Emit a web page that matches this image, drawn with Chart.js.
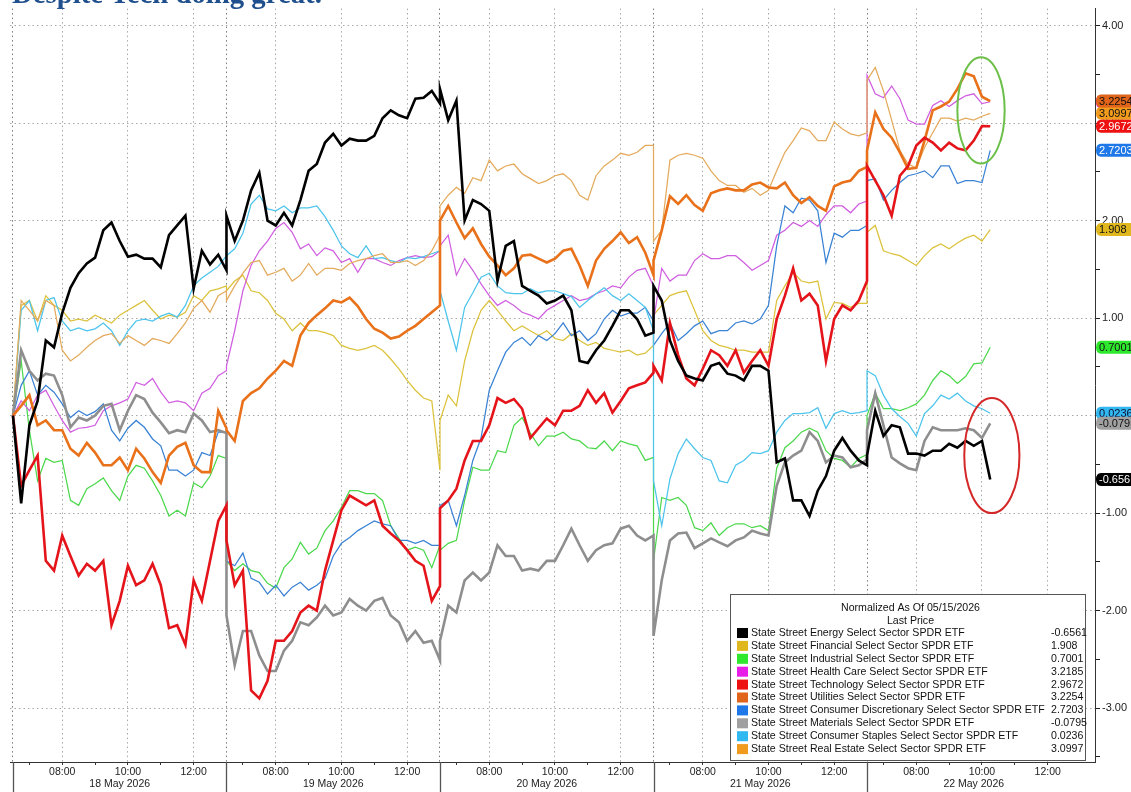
<!DOCTYPE html>
<html>
<head>
<meta charset="utf-8">
<title>Sector ETFs - normalized</title>
<script src="https://cdn.jsdelivr.net/npm/chart.js@4.4.1/dist/chart.umd.min.js"></script>
<style>
  html, body { margin: 0; padding: 0; background: #fff; }
  #wrap { width: 1131px; height: 792px; }
</style>
</head>
<body>
<div id="wrap"><canvas id="chart" width="1131" height="792"></canvas></div>
<script>
// 15 minute bars, 06:30 - 13:00 each session
const dayLabels = ['18 May 2026', '19 May 2026', '20 May 2026', '21 May 2026', '22 May 2026'];
const barsPerDay = [27, 27, 27, 27, 16];
const tickHours = [7, 8, 9, 10, 11, 12];
const yTickValues = [-3.5, -3, -2.5, -2, -1.5, -1, -0.5, 0, 0.5, 1, 1.5, 2, 2.5, 3, 3.5, 4];

const sectorNames = [
  'State Street Energy Select Sector SPDR ETF',
  'State Street Financial Select Sector SPDR ETF',
  'State Street Industrial Select Sector SPDR ETF',
  'State Street Health Care Select Sector SPDR ETF',
  'State Street Technology Select Sector SPDR ETF',
  'State Street Utilities Select Sector SPDR ETF',
  'State Street Consumer Discretionary Select Sector SPDR ETF',
  'State Street Materials Select Sector SPDR ETF',
  'State Street Consumer Staples Select Sector SPDR ETF',
  'State Street Real Estate Select Sector SPDR ETF'
];

const energy = [
  0, -0.90, -0.10, 0.15, 0.77, 0.70, 1.05, 1.31, 1.46, 1.56, 1.62, 1.90, 1.98, 1.79, 1.63, 1.65, 1.61, 1.61, 1.52, 1.85, 1.95, 2.05, 1.30, 1.69, 1.55, 1.65, 1.49,
  2.05, 1.79, 2.00, 2.31, 2.49, 2.00, 1.95, 2.08, 1.95, 2.21, 2.51, 2.58, 2.80, 2.89, 2.77, 2.84, 2.82, 2.82, 2.87, 3.05, 3.13, 3.08, 3.05, 3.25, 3.26, 3.33, 3.20,
  3.35, 3.03, 3.23, 2.00, 2.21, 2.17, 2.10, 1.38, 1.74, 1.79, 1.33, 1.28, 1.23, 1.15, 1.18, 1.23, 1.08, 0.56, 0.54, 0.67, 0.77, 0.92, 1.08, 1.08, 0.99, 0.82, 0.85,
  1.33, 1.18, 0.77, 0.56, 0.41, 0.38, 0.36, 0.51, 0.54, 0.43, 0.41, 0.36, 0.51, 0.51, 0.46, -0.48, -0.44, -0.87, -0.87, -1.03, -0.77, -0.62, -0.36, -0.23, -0.36, -0.46, -0.51,
  -0.41, 0.05, -0.21, -0.10, -0.12, -0.39, -0.39, -0.41, -0.36, -0.36, -0.29, -0.33, -0.26, -0.31, -0.26, -0.6561
];
const financial = [
  0, 1.13, 1.18, 0.97, 1.23, 1.13, 1.08, 0.97, 0.99, 0.97, 1.03, 0.99, 0.95, 1.03, 1.08, 1.13, 1.18, 1.08, 0.99, 1.03, 1.01, 1.06, 1.23, 1.18, 1.28, 1.30, 1.33,
  1.28, 1.38, 1.44, 1.28, 1.26, 1.18, 1.05, 0.99, 0.87, 0.95, 0.87, 0.87, 0.85, 0.82, 0.72, 0.69, 0.67, 0.69, 0.72, 0.67, 0.58, 0.48, 0.36, 0.26, 0.18, 0.15, -0.56,
  -0.05, 0.21, 0.10, 0.56, 0.87, 1.08, 1.18, 1.08, 0.97, 0.87, 0.92, 0.87, 0.82, 0.87, 0.79, 0.77, 0.84, 0.77, 0.72, 0.75, 0.69, 0.67, 0.65, 0.67, 0.62, 0.64, 0.72,
  1.03, 1.13, 1.23, 1.26, 1.28, 1.08, 0.87, 0.77, 0.72, 0.70, 0.67, 0.67, 0.65, 0.65, 0.65, 1.18, 1.33, 1.47, 1.38, 1.36, 1.38, 0.99, 1.16, 1.15, 1.11, 1.15, 1.15,
  1.88, 1.95, 1.69, 1.66, 1.64, 1.59, 1.54, 1.64, 1.72, 1.76, 1.71, 1.77, 1.82, 1.85, 1.79, 1.908
];
const industrial = [
  0, 0.56, -0.15, -0.67, -0.44, -0.48, -0.46, -0.87, -0.92, -0.75, -0.70, -0.64, -0.77, -0.87, -0.62, -0.51, -0.54, -0.67, -0.82, -1.03, -0.97, -1.03, -0.69, -0.74, -0.62, -0.41, -0.44,
  -1.49, -1.59, -1.52, -1.59, -1.61, -1.72, -1.77, -1.56, -1.47, -1.30, -1.42, -1.36, -1.18, -1.08, -0.94, -0.77, -0.77, -0.80, -0.80, -0.87, -1.13, -1.26, -1.38, -1.35, -1.38, -1.56, -1.33,
  -1.38, -1.31, -1.28, -0.87, -0.53, -0.56, -0.56, -0.36, -0.38, -0.10, -0.02, -0.18, -0.31, -0.21, -0.21, -0.17, -0.24, -0.26, -0.33, -0.34, -0.26, -0.36, -0.26, -0.29, -0.31, -0.46, -0.43,
  -1.49, -0.84, -0.87, -0.84, -0.92, -1.15, -1.18, -1.10, -1.23, -1.15, -1.11, -1.11, -1.15, -1.13, -1.18, -0.54, -0.33, -0.26, -0.17, -0.13, -0.17, -0.36, -0.44, -0.46, -0.53, -0.44, -0.40,
  0, 0.23, 0.07, 0.07, 0.05, 0.08, 0.12, 0.21, 0.36, 0.46, 0.41, 0.33, 0.40, 0.53, 0.54, 0.7001
];
const healthCare = [
  0, 0.15, 0.05, 0.21, 0.26, 0.10, -0.05, -0.17, -0.13, -0.12, -0.10, 0.05, 0.10, 0.13, 0.17, 0.34, 0.31, 0.38, 0.24, 0.13, 0.15, 0.13, 0.05, 0.23, 0.28, 0.41, 0.46,
  0.51, 0.87, 1.28, 1.54, 1.69, 1.79, 1.92, 1.98, 1.88, 1.71, 1.76, 1.64, 1.72, 1.69, 1.57, 1.61, 1.47, 1.61, 1.61, 1.57, 1.54, 1.59, 1.62, 1.64, 1.62, 1.63, 1.69,
  1.74, 1.85, 1.44, 1.61, 1.49, 1.35, 1.23, 1.13, 1.18, 1.13, 1.06, 1.03, 0.99, 1.08, 1.13, 1.18, 1.23, 1.18, 1.20, 1.25, 1.28, 1.33, 1.31, 1.42, 1.49, 1.51, 1.33,
  0.97, 1.51, 1.38, 1.44, 1.44, 1.59, 1.66, 1.61, 1.61, 1.64, 1.64, 1.57, 1.49, 1.54, 1.59, 1.85, 1.90, 1.98, 1.94, 2.00, 1.94, 2.06, 2.15, 2.15, 2.08, 2.17, 2.20,
  3.49, 3.30, 3.26, 3.38, 3.25, 3.03, 2.99, 2.99, 3.18, 3.23, 3.17, 3.23, 3.28, 3.30, 3.20, 3.2185
];
const technology = [
  0, -0.72, -0.56, -0.41, -1.49, -1.59, -1.23, -1.44, -1.64, -1.52, -1.59, -1.49, -2.15, -1.90, -1.54, -1.74, -1.69, -1.52, -1.74, -2.18, -2.15, -2.35, -1.69, -1.90, -1.49, -1.08, -0.92,
  -1.28, -1.74, -1.59, -2.82, -2.90, -2.72, -2.31, -2.31, -2.21, -2.02, -1.95, -2.00, -1.59, -1.28, -0.97, -0.82, -0.87, -0.92, -0.87, -1.13, -1.21, -1.28, -1.38, -1.49, -1.54, -1.90, -1.75,
  -0.95, -0.87, -0.75, -0.46, -0.26, -0.26, -0.10, 0.18, 0.13, 0.17, 0.07, -0.23, -0.13, -0.03, -0.10, 0.05, 0.05, 0.10, 0.26, 0.13, 0.23, 0.03, 0.15, 0.28, 0.31, 0.34, 0.44,
  0.51, 0.36, 0.95, 0.62, 0.38, 0.31, 0.48, 0.67, 0.62, 0.51, 0.67, 0.44, 0.56, 0.67, 0.51, 0.99, 1.23, 1.51, 1.18, 1.25, 1.13, 0.56, 0.99, 1.13, 1.08, 1.18, 1.38,
  2.56, 2.41, 2.26, 2.05, 2.46, 2.56, 2.77, 2.85, 2.80, 2.72, 2.80, 2.74, 2.72, 2.82, 2.97, 2.9672
];
const utilities = [
  0, 0.10, 0.21, -0.10, -0.05, -0.15, -0.15, -0.34, -0.41, -0.28, -0.38, -0.51, -0.51, -0.43, -0.56, -0.34, -0.44, -0.58, -0.69, -0.41, -0.32, -0.28, -0.51, -0.58, -0.58, 0.05, -0.13,
  -0.15, -0.26, 0.15, 0.23, 0.28, 0.38, 0.46, 0.56, 0.51, 0.82, 0.95, 1.03, 1.10, 1.18, 1.16, 1.21, 1.12, 0.99, 0.89, 0.85, 0.79, 0.81, 0.87, 0.92, 0.99, 1.06, 1.13,
  2.00, 2.15, 1.98, 1.82, 1.92, 1.76, 1.63, 1.54, 1.44, 1.51, 1.64, 1.65, 1.61, 1.57, 1.61, 1.69, 1.71, 1.54, 1.33, 1.59, 1.71, 1.79, 1.88, 1.77, 1.83, 1.67, 1.44,
  1.59, 1.90, 2.25, 2.17, 2.26, 2.16, 2.10, 2.28, 2.31, 2.33, 2.31, 2.31, 2.37, 2.39, 2.34, 2.33, 2.39, 2.26, 2.18, 2.24, 2.15, 2.10, 2.35, 2.39, 2.41, 2.51, 2.55,
  2.72, 3.11, 2.94, 2.85, 2.70, 2.53, 2.54, 2.82, 3.13, 3.17, 3.22, 3.35, 3.51, 3.48, 3.27, 3.2254
];
const consDiscretionary = [
  0, 0.31, 0.46, 0.21, 0.31, 0.24, 0.12, -0.02, 0.05, 0, 0.04, 0.12, -0.15, -0.26, -0.13, -0.05, -0.12, -0.24, -0.31, -0.56, -0.56, -0.62, -0.56, -0.38, -0.41, -0.17, -0.17,
  -1.49, -1.54, -1.41, -1.67, -1.71, -1.83, -1.74, -1.85, -1.76, -1.71, -1.79, -1.74, -1.67, -1.44, -1.31, -1.25, -1.18, -1.13, -1.08, -1.11, -1.13, -1.28, -1.28, -1.31, -1.28, -1.33, -1.33,
  -0.92, -0.87, -1.13, -0.82, -0.46, -0.23, 0.26, 0.46, 0.65, 0.75, 0.80, 0.72, 0.82, 0.77, 0.84, 0.95, 0.82, 0.87, 0.77, 0.84, 0.99, 1.08, 1.02, 1.05, 1.05, 1.11, 0.97,
  0.72, 0.84, 0.95, 0.77, 0.84, 0.92, 0.97, 0.84, 0.87, 0.87, 0.95, 0.97, 0.94, 0.99, 1.13, 1.74, 2.15, 2.08, 2.23, 2.21, 2.10, 1.57, 1.87, 1.83, 1.90, 1.90, 1.95,
  2.41, 2.43, 2.21, 2.31, 2.39, 2.46, 2.48, 2.51, 2.44, 2.56, 2.56, 2.38, 2.41, 2.41, 2.39, 2.7203
];
const materials = [
  0, 0.67, 0.46, 0.36, 0.43, 0.41, 0.21, -0.12, -0.02, -0.05, 0, 0.10, 0.12, -0.15, 0.05, 0.21, 0.17, 0.03, -0.07, -0.18, -0.15, -0.17, 0.02, -0.05, -0.17, -0.15, -0.18,
  -2.05, -2.56, -2.21, -2.21, -2.46, -2.62, -2.62, -2.41, -2.31, -2.12, -2.15, -2.07, -1.95, -2.05, -2.02, -1.88, -1.95, -2.00, -1.90, -1.87, -2.05, -2.12, -2.31, -2.21, -2.33, -2.31, -2.51,
  -2.31, -1.95, -2.02, -1.69, -1.61, -1.69, -1.61, -1.33, -1.44, -1.44, -1.59, -1.57, -1.59, -1.49, -1.49, -1.33, -1.16, -1.33, -1.49, -1.38, -1.33, -1.31, -1.16, -1.13, -1.23, -1.28, -1.23,
  -2.26, -1.69, -1.28, -1.21, -1.20, -1.36, -1.31, -1.26, -1.30, -1.34, -1.28, -1.25, -1.18, -1.21, -1.23, -0.72, -0.48, -0.41, -0.36, -0.17, -0.26, -0.48, -0.41, -0.43, -0.53, -0.51, -0.45,
  -0.15, 0.23, -0.10, -0.43, -0.49, -0.54, -0.56, -0.26, -0.12, -0.15, -0.15, -0.15, -0.13, -0.15, -0.23, -0.0795
];
const consStaples = [
  0, 1.08, 1.18, 0.87, 1.18, 1.21, 0.97, 0.87, 0.90, 0.87, 0.89, 0.95, 0.87, 0.72, 0.87, 0.97, 0.99, 0.97, 1.02, 1.05, 1.01, 1.13, 1.33, 1.41, 1.47, 1.53, 1.64,
  1.64, 1.71, 1.87, 2.17, 2.26, 2.12, 2.10, 2.15, 2.08, 2.13, 2.13, 2.15, 2.04, 1.90, 1.74, 1.66, 1.62, 1.74, 1.61, 1.62, 1.59, 1.57, 1.62, 1.61, 1.63, 1.66, 1.69,
  1.28, 0.97, 0.67, 1.11, 1.26, 1.42, 1.46, 1.33, 1.26, 1.25, 1.25, 1.30, 1.26, 1.28, 1.28, 1.25, 1.22, 1.11, 1.18, 1.25, 1.31, 1.23, 1.18, 1.25, 1.18, 1.11, 0.87,
  -0.67, -1.13, -0.65, -0.39, -0.24, -0.34, -0.43, -0.46, -0.67, -0.69, -0.51, -0.46, -0.38, -0.39, -0.36, -0.17, -0.05, 0.02, 0.02, 0.03, 0.08, -0.13, 0.02, 0.05, 0.02, 0.03, 0.05,
  0.46, 0.41, 0.21, 0.07, -0.01, -0.08, -0.21, 0.02, 0.10, 0.21, 0.17, 0.23, 0.15, 0.10, 0.07, 0.0236
];
const realEstate = [
  0, 1.18, 1.08, 0.97, 1.18, 1.13, 0.67, 0.56, 0.62, 0.70, 0.77, 0.82, 0.84, 0.74, 0.82, 0.77, 0.72, 0.79, 0.77, 0.74, 0.84, 0.95, 1.10, 1.18, 1.06, 1.23, 1.28,
  1.18, 1.33, 1.46, 1.57, 1.59, 1.44, 1.47, 1.51, 1.38, 1.44, 1.56, 1.44, 1.51, 1.51, 1.49, 1.56, 1.59, 1.61, 1.64, 1.66, 1.57, 1.57, 1.59, 1.54, 1.59, 1.69, 1.85,
  2.15, 2.26, 2.34, 2.28, 2.44, 2.41, 2.62, 2.51, 2.56, 2.58, 2.48, 2.43, 2.38, 2.41, 2.46, 2.48, 2.41, 2.26, 2.21, 2.46, 2.56, 2.62, 2.69, 2.67, 2.70, 2.77, 2.77,
  1.79, 1.90, 2.62, 2.67, 2.69, 2.67, 2.64, 2.51, 2.41, 2.36, 2.36, 2.29, 2.33, 2.26, 2.31, 2.51, 2.70, 2.82, 2.95, 2.92, 2.82, 2.82, 3.01, 2.94, 2.89, 2.87, 2.90,
  3.44, 3.57, 3.33, 3.03, 2.72, 2.58, 2.54, 2.75, 2.90, 3.05, 3.05, 3.02, 3.05, 3.03, 3.07, 3.0997
];

const allSeries = [energy, financial, industrial, healthCare, technology, utilities, consDiscretionary, materials, consStaples, realEstate];

// styling
const lineColors = ['#000000', '#dcc23c', '#4cd84c', '#d05ee0', '#e4141a', '#e8711a', '#3a82d4', '#8e8e8e', '#4cc4ec', '#e4aa5c'];
const swatchColors = ['#000000', '#e0b81e', '#2ee82e', '#e81ee8', '#ee1111', '#e0641a', '#1e78e8', '#a0a0a0', '#32b8f0', '#f09a1e'];
const lineWidths = [2.6, 1.25, 1.25, 1.25, 2.6, 2.6, 1.25, 2.6, 1.25, 1.25];
const drawOrder = [0, 9, 8, 7, 1, 2, 6, 3, 5, 4];
const tagText = ['#fff', '#111', '#111', '#111', '#fff', '#111', '#fff', '#111', '#113', '#111'];
const tagStack = [3, 9, 5, 4, 6, 1, 2, 8, 7, 0];

// annotation ellipses in data units (hours since first open, value)
const callouts = [
  { t: 29.47, v: 3.13, dt: 0.72, dv: 0.545, color: '#6cbf48' },
  { t: 29.80, v: -0.41, dt: 0.84, dv: 0.59, color: '#d42828' }
];

const times = [];
barsPerDay.forEach((n, d) => { for (let k = 0; k < n; k++) times.push(d * 6.5 + k * 0.25); });

const xTicks = [];
dayLabels.forEach((day, d) => {
  const open = d * 6.5;
  xTicks.push({ value: open, kind: 'day', label: '' });
  tickHours.forEach(h => {
    const even = h % 2 === 0;
    xTicks.push({ value: open + h - 6.5, kind: even ? 'major' : 'minor', label: even ? String(h).padStart(2, '0') + ':00' : '' });
  });
  xTicks.push({ value: open + 3.25, kind: 'mid', label: ['', day] });
});
xTicks.sort((a, b) => a.value - b.value);

const FONT = '"Liberation Sans", "DejaVu Sans", sans-serif';

const overlay = {
  id: 'overlay',
  afterDatasetsDraw(chart) {
    const { ctx, chartArea: a, scales: { x, y } } = chart;
    ctx.save();
    callouts.forEach(c => {
      const cx = x.getPixelForValue(c.t), cy = y.getPixelForValue(c.v);
      const rx = x.getPixelForValue(c.t + c.dt) - cx;
      const ry = cy - y.getPixelForValue(c.v + c.dv);
      ctx.beginPath();
      ctx.ellipse(cx, cy, rx, ry, 0, 0, Math.PI * 2);
      ctx.strokeStyle = c.color;
      ctx.lineWidth = 2;
      ctx.stroke();
    });

    // legend box
    const w = 355, h = 166;
    const bx = a.right - 10 - w, by = a.bottom - 2 - h;
    ctx.fillStyle = '#fff';
    ctx.fillRect(bx, by, w, h);
    ctx.strokeStyle = '#555';
    ctx.lineWidth = 1;
    ctx.strokeRect(bx + 0.5, by + 0.5, w, h);

    ctx.font = '10px ' + FONT;
    const longest = Math.max(...sectorNames.map(n => ctx.measureText(n).width));
    const fs = Math.min(11.5, 10 * 294 / longest);
    ctx.font = fs.toFixed(2) + 'px ' + FONT;
    ctx.fillStyle = '#111';
    ctx.textAlign = 'center';
    ctx.textBaseline = 'middle';
    ctx.fillText('Normalized As Of 05/15/2026', bx + w / 2 + 3, by + 14);
    ctx.fillText('Last Price', bx + w / 2 + 3, by + 27.5);
    ctx.textAlign = 'left';
    sectorNames.forEach((name, i) => {
      const ry = by + 39 + i * 12.9;
      ctx.fillStyle = swatchColors[i];
      ctx.fillRect(bx + 7, ry - 5, 11, 10);
      ctx.fillStyle = '#111';
      ctx.fillText(name, bx + 21, ry);
      const s = allSeries[i];
      ctx.fillText(String(s[s.length - 1]), bx + 321, ry);
    });
    ctx.restore();
  },
  afterDraw(chart) {
    const { ctx, chartArea: a, scales: { x, y } } = chart;
    ctx.save();
    // session separators under the axis
    ctx.strokeStyle = '#555';
    ctx.lineWidth = 1.3;
    dayLabels.forEach((d, i) => {
      const px = Math.round(x.getPixelForValue(i * 6.5)) + 0.5;
      ctx.beginPath();
      ctx.moveTo(px, a.bottom);
      ctx.lineTo(px, chart.height);
      ctx.stroke();
    });

    // last value tags on the right axis
    ctx.font = '11px ' + FONT;
    ctx.textBaseline = 'middle';
    ctx.textAlign = 'left';
    tagStack.forEach(i => {
      const s = allSeries[i];
      const v = s[s.length - 1];
      const cy = y.getPixelForValue(v);
      const x0 = y.left;
      ctx.beginPath();
      ctx.moveTo(x0 + 1, cy);
      ctx.quadraticCurveTo(x0 + 1, cy - 6.5, x0 + 6, cy - 6.5);
      ctx.lineTo(chart.width + 5, cy - 6.5);
      ctx.lineTo(chart.width + 5, cy + 6.5);
      ctx.lineTo(x0 + 6, cy + 6.5);
      ctx.quadraticCurveTo(x0 + 1, cy + 6.5, x0 + 1, cy);
      ctx.closePath();
      ctx.fillStyle = swatchColors[i];
      ctx.fill();
      ctx.fillStyle = tagText[i];
      ctx.fillText(String(v), x0 + 4, cy + 0.5);
    });

    // headline, cut by the top edge like the source
    ctx.font = 'bold 24px "Liberation Serif", "DejaVu Serif", serif';
    const tw = ctx.measureText('Despite Tech doing great.').width;
    ctx.font = 'bold ' + (24 * 310 / tw).toFixed(2) + 'px "Liberation Serif", "DejaVu Serif", serif';
    ctx.fillStyle = '#1f4f8c';
    ctx.textBaseline = 'alphabetic';
    ctx.fillText('Despite Tech doing great.', 12, 3);
    ctx.restore();
  }
};

const datasets = allSeries.map((s, i) => ({
  label: sectorNames[i],
  data: s.map((v, k) => ({ x: times[k], y: v })),
  borderColor: lineColors[i],
  borderWidth: lineWidths[i],
  pointRadius: 0,
  tension: 0,
  fill: false,
  order: drawOrder[i]
}));

// grid only on whole units; half units keep a tick mark
const yIsWhole = c => {
  const v = yTickValues[c.index];
  return v !== undefined && Number.isInteger(v);
};

new Chart(document.getElementById('chart'), {
  type: 'line',
  data: { datasets },
  options: {
    responsive: false,
    animation: false,
    devicePixelRatio: 1,
    layout: { padding: { left: 10, top: 8, right: 0, bottom: 0 } },
    plugins: { legend: { display: false }, tooltip: { enabled: false }, title: { display: false } },
    scales: {
      x: {
        type: 'linear',
        min: -0.09,
        max: 32.94,
        afterBuildTicks: s => { s.ticks = xTicks.map(t => ({ value: t.value })); },
        afterFit: s => { s.height = 30; },
        ticks: {
          autoSkip: false,
          maxRotation: 0,
          minRotation: 0,
          padding: 1,
          color: '#222',
          font: { family: FONT, size: 10.5, lineHeight: 1.15 },
          callback: (v, i) => xTicks[i].label
        },
        grid: {
          color: c => {
            const t = xTicks[c.index];
            if (!t) return 'transparent';
            if (t.kind === 'day') return '#7a7a7a';
            return t.kind === 'major' ? '#a8a8a8' : 'transparent';
          },
          tickColor: c => {
            const t = xTicks[c.index];
            return t && t.kind !== 'mid' && t.kind !== 'day' ? '#333' : 'transparent';
          },
          tickLength: 3,
          lineWidth: 1
        },
        border: { display: true, color: '#333', width: 1, dash: [1.5, 3] }
      },
      y: {
        position: 'right',
        min: -3.553,
        max: 4.174,
        afterBuildTicks: s => { s.ticks = yTickValues.map(v => ({ value: v })); },
        afterFit: s => { s.width = 36; },
        ticks: {
          padding: 2,
          color: '#222',
          font: { family: FONT, size: 11 },
          callback: (v, i) => (Number.isInteger(yTickValues[i]) ? yTickValues[i].toFixed(2) : '')
        },
        grid: {
          color: c => (yIsWhole(c) ? '#a8a8a8' : 'rgba(0,0,0,0)'),
          tickColor: '#222',
          tickLength: 5,
          lineWidth: 1
        },
        border: { display: true, color: '#333', width: 1, dash: [1.5, 3] }
      }
    }
  },
  plugins: [overlay]
});
</script>
</body>
</html>
